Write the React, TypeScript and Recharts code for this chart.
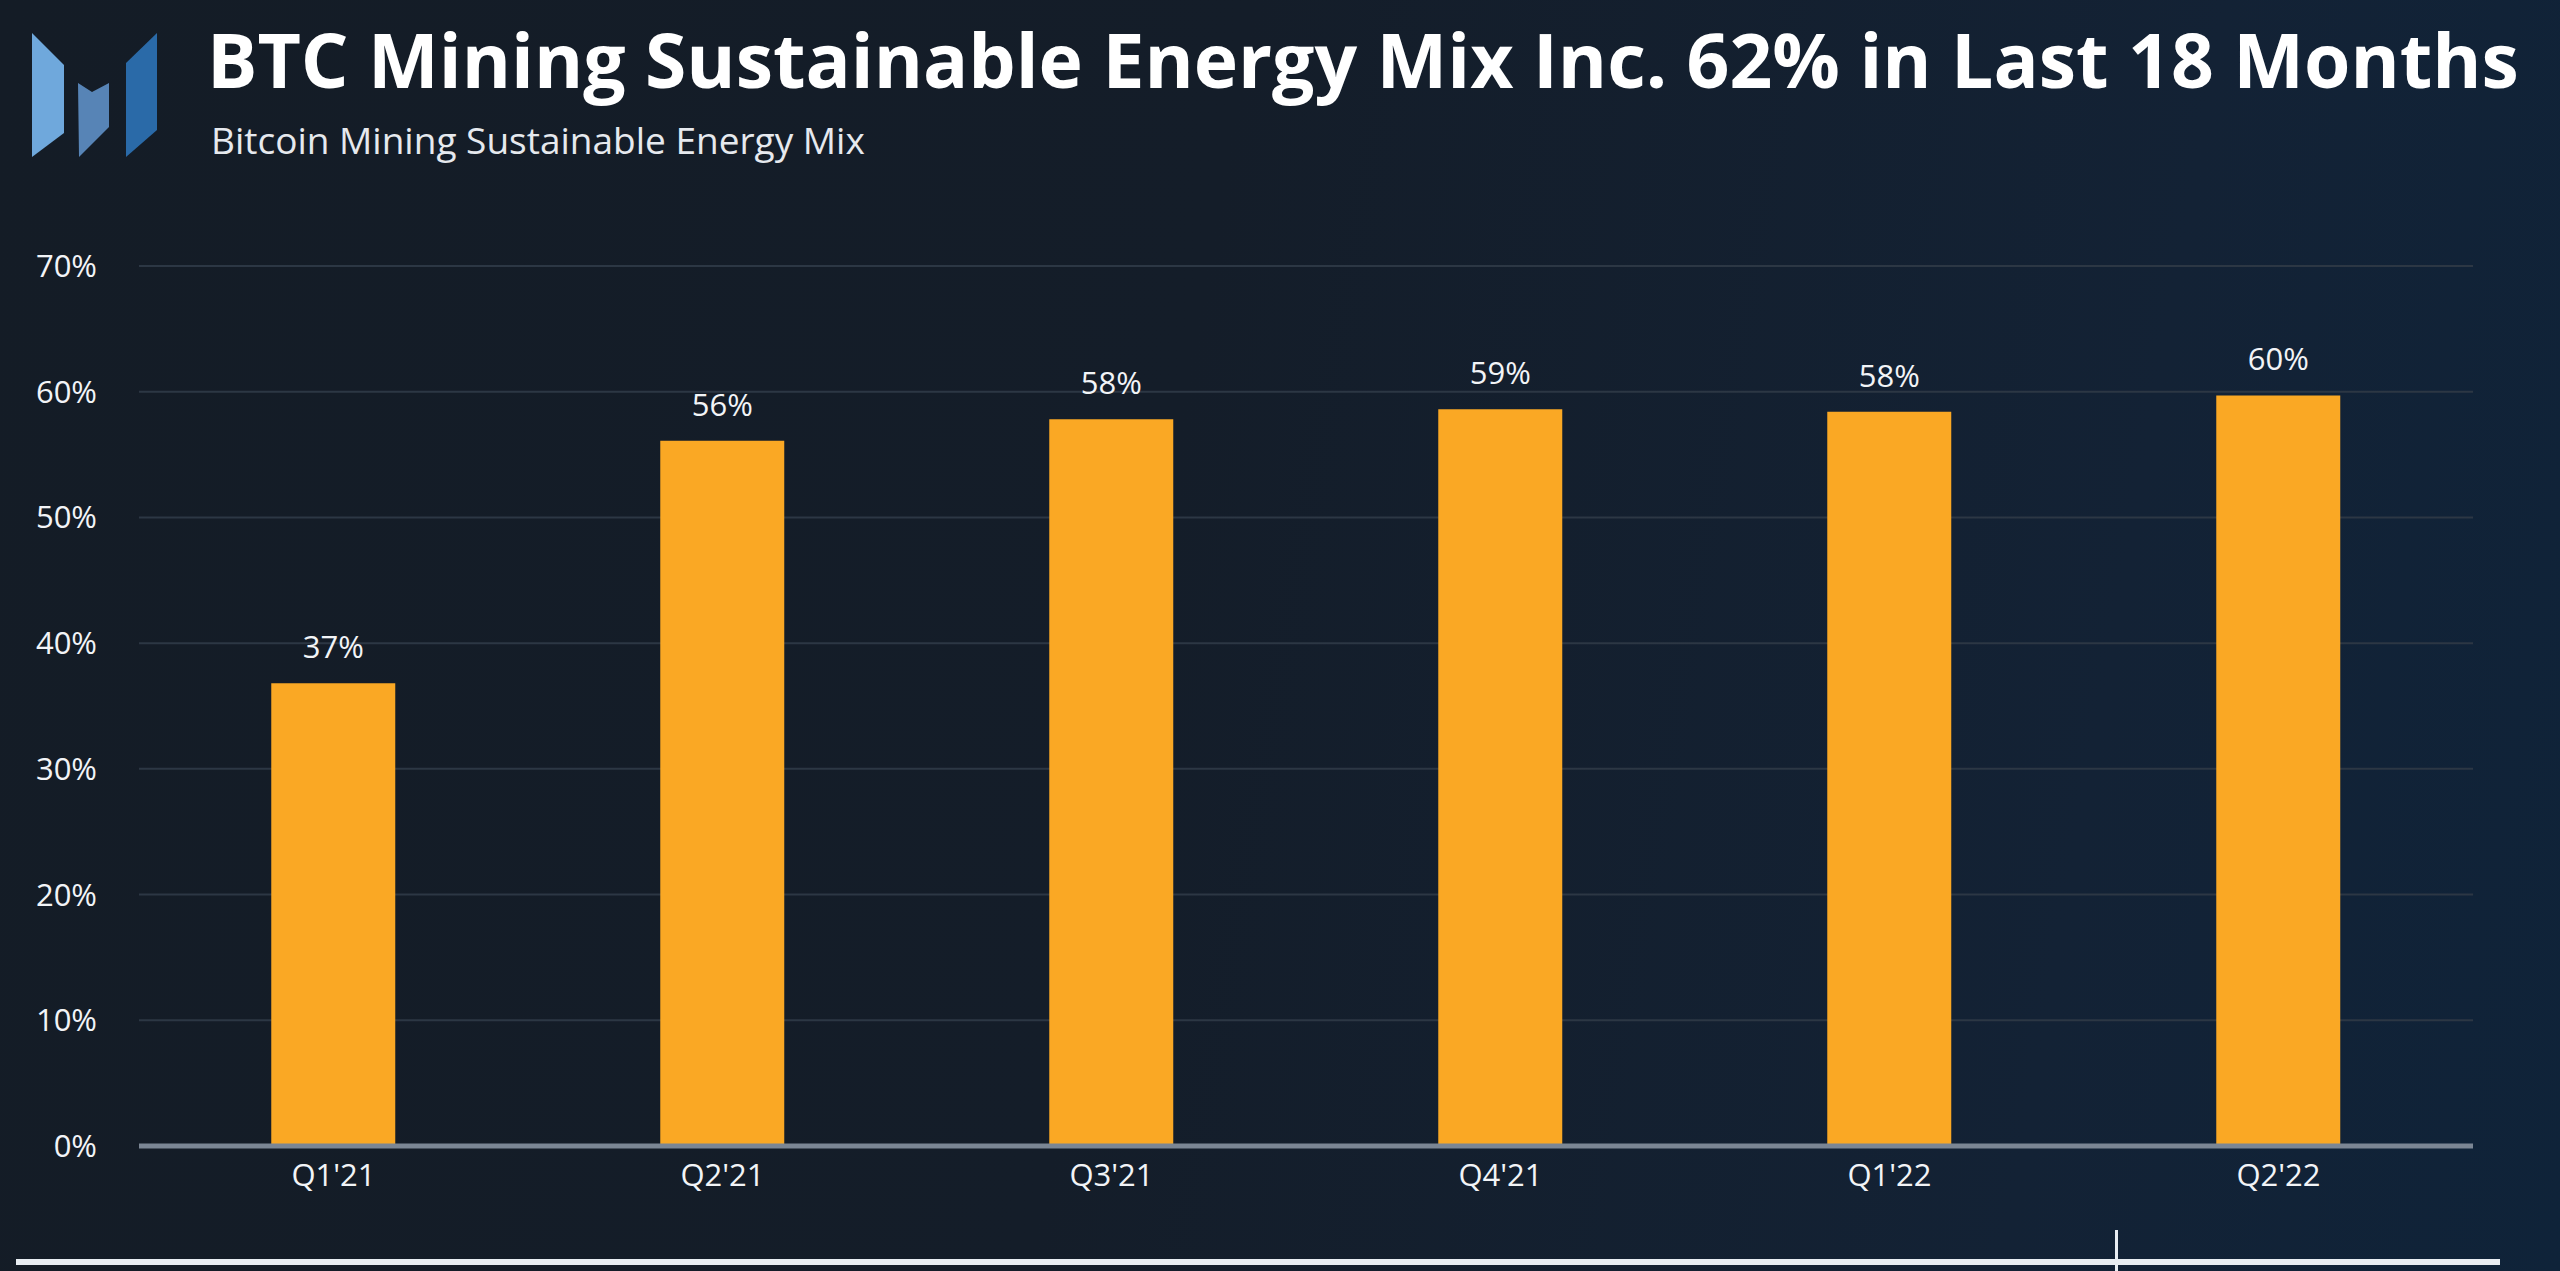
import React from 'react';
import { BarChart, Bar, XAxis, YAxis, CartesianGrid, LabelList, ReferenceLine } from 'recharts';

const quarters = ["Q1'21", "Q2'21", "Q3'21", "Q4'21", "Q1'22", "Q2'22"];
const sustainableShare = [36.8, 56.1, 57.8, 58.6, 58.4, 59.7];
const yTicks = [0, 10, 20, 30, 40, 50, 60, 70];

const data = quarters.map((name, i) => ({ name, value: sustainableShare[i] }));

const font = '"Open Sans", sans-serif';

const Logo: React.FC = () => (
    <svg width={180} height={180} style={{ position: 'absolute', left: 0, top: 0 }}>
        <polygon points="32,33 64,65 64,133 32,157" fill="#6fa8dc" />
        <polygon points="78,83 92,92 109,83 109,127 79,157" fill="#5784b6" />
        <polygon points="126,63 157,33 157,130 126,157" fill="#2a6aa8" />
    </svg>
);

const App: React.FC = () => {
    return (
        <div
            style={{
                position: 'absolute',
                left: 0,
                top: 0,
                width: 2560,
                height: 1271,
                overflow: 'hidden',
                background: 'linear-gradient(100deg, #141c26 0%, #141d29 45%, #132235 80%, #0f2339 100%)',
                fontFamily: font,
                color: '#ffffff',
            }}
        >
            <Logo />
            <div style={{ position: 'absolute', left: 207, top: 8, fontSize: 75, fontWeight: 700, whiteSpace: 'nowrap' }}>
                BTC Mining Sustainable Energy Mix Inc. 62% in Last 18 Months
            </div>
            <div style={{ position: 'absolute', left: 211, top: 114, fontSize: 37, color: '#e6e9ee', whiteSpace: 'nowrap' }}>
                Bitcoin Mining Sustainable Energy Mix
            </div>
            <div style={{ position: 'absolute', left: 0, top: 0 }}>
                <BarChart
                    width={2560}
                    height={1271}
                    data={data}
                    margin={{ top: 266, right: 87, left: 0, bottom: 65 }}
                    barCategoryGap="34%"
                >
                    <CartesianGrid vertical={false} stroke="#2c3744" strokeWidth={2} />
                    <XAxis
                        dataKey="name"
                        height={60}
                        tickLine={false}
                        axisLine={false}
                        tickMargin={12}
                        tick={{ fill: '#f2f4f7', fontSize: 31, fontFamily: font }}
                    />
                    <YAxis
                        width={139}
                        domain={[0, 70]}
                        ticks={yTicks}
                        tickLine={false}
                        axisLine={false}
                        tickMargin={36}
                        tickFormatter={(v) => `${v}%`}
                        tick={{ fill: '#f2f4f7', fontSize: 31, fontFamily: font }}
                    />
                    <Bar dataKey="value" fill="#faa824" isAnimationActive={false}>
                        <LabelList
                            dataKey="value"
                            position="top"
                            offset={25}
                            formatter={(v: number) => `${Math.round(v)}%`}
                            style={{ fill: '#f2f4f7', fontSize: 31, fontFamily: font }}
                        />
                    </Bar>
                    <ReferenceLine y={0} stroke="#7b8694" strokeWidth={5} />
                </BarChart>
            </div>
            <div style={{ position: 'absolute', left: 16, top: 1259, width: 2484, height: 6, background: '#e8edf2' }} />
            <div style={{ position: 'absolute', left: 2115, top: 1230, width: 3, height: 41, background: '#e8edf2' }} />
        </div>
    );
};

export default App;
